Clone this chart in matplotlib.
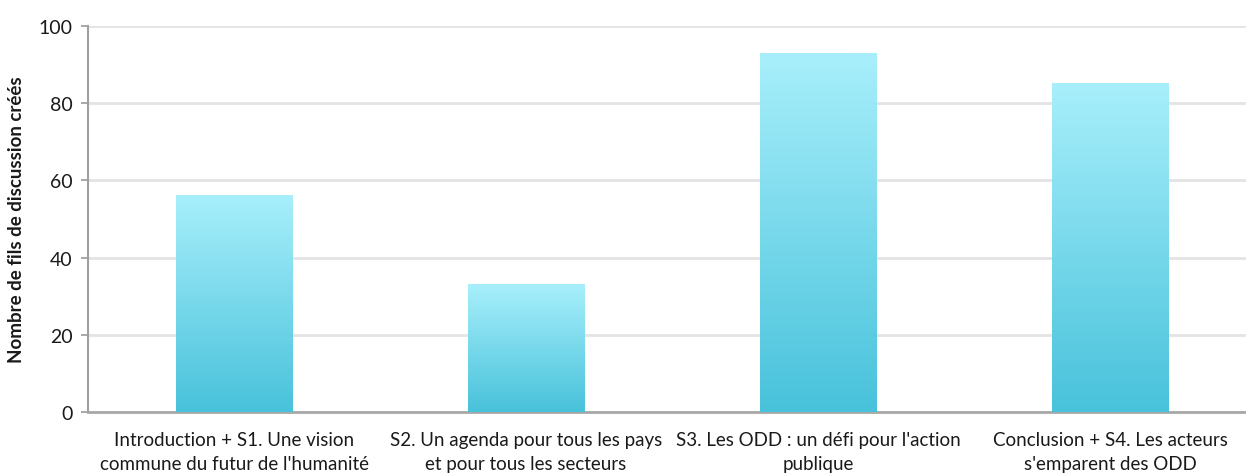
import numpy as np
import matplotlib
matplotlib.use("Agg")
import matplotlib.pyplot as plt
from matplotlib.colors import LinearSegmentedColormap

# data
categories = ["Introduction + S1. Une vision\ncommune du futur de l'humanité",
              "S2. Un agenda pour tous les pays\net pour tous les secteurs",
              "S3. Les ODD : un défi pour l'action\npublique",
              "Conclusion + S4. Les acteurs\ns'emparent des ODD"]
values = [56, 33, 93, 85]
yticks = [0, 20, 40, 60, 80, 100]

plt.rcParams['font.family'] = ['Lato', 'DejaVu Sans']

fig = plt.figure(figsize=(12.46, 4.77), dpi=100)
# axes runs a bit past the right edge, like the cropped original
ax = fig.add_axes([88/1246, 64/477, 1168/1246, 386/477])

x = np.arange(len(categories))
width = 0.40
bars = ax.bar(x, values, width=width, color='none', zorder=3)

cmap = LinearSegmentedColormap.from_list("cy", ["#48c2db", "#a8effb"])
grad = np.linspace(0, 1, 256).reshape(-1, 1)
for b in bars:
    x0, y0 = b.get_x(), b.get_y()
    w, h = b.get_width(), b.get_height()
    ax.imshow(grad, cmap=cmap, origin='lower', aspect='auto',
              extent=[x0, x0 + w, y0, y0 + h], zorder=3)

ax.set_xlim(-0.5, len(categories) - 0.5)
ax.set_ylim(0, 100)
ax.set_yticks(yticks)
ax.set_xticks(x)
ax.set_xticklabels(categories, fontsize=13.5, color='#1a1a1a', linespacing=1.45)
ax.tick_params(axis='x', length=0, pad=14)
ax.tick_params(axis='y', length=5, width=1.2, color='#999999', labelsize=14, labelcolor='#1a1a1a', pad=6)

ax.yaxis.grid(True, color='#e4e4e4', linewidth=2)
ax.set_axisbelow(True)
for s in ['top', 'right']:
    ax.spines[s].set_visible(False)
ax.spines['left'].set_color('#a0a0a0')
ax.spines['left'].set_linewidth(1.5)
ax.spines['bottom'].set_color('#a8a8a8')
ax.spines['bottom'].set_linewidth(2)

ax.set_ylabel("Nombre de fils de discussion créés", fontsize=13.5, fontweight='bold',
              color='#1a1a1a', labelpad=10)

fig.savefig("out.png", dpi=100)
